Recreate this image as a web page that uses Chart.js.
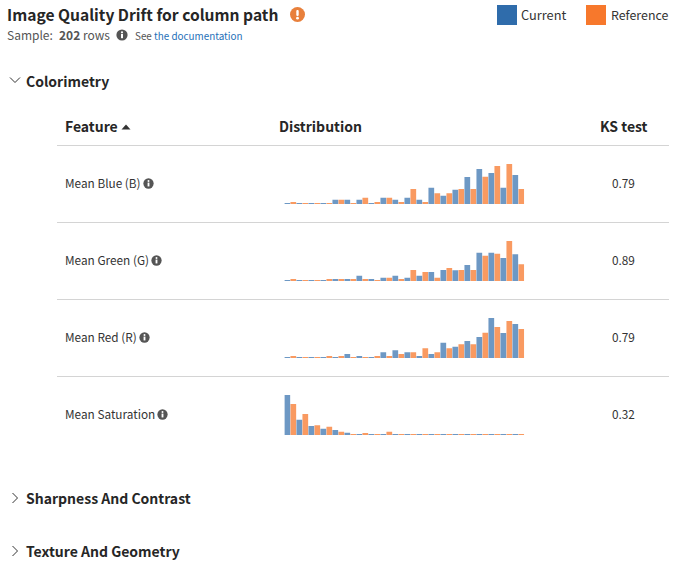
<!DOCTYPE html>
<html lang="en">
<head>
  <meta charset="UTF-8" />
  <title>Image Quality Drift</title>
  <script src="https://cdn.jsdelivr.net/npm/chart.js"></script>
  <style>
    html, body { margin: 0; padding: 0; background: #fff; }
    body {
      position: relative; width: 680px; height: 575px; overflow: hidden;
      font-family: "Noto Sans CJK SC", "Noto Sans", sans-serif; color: #333;
    }
    .t { position: absolute; white-space: nowrap; line-height: 20px; height: 20px; }
    .b { font-weight: 700; color: #262626; }
    .rule { position: absolute; left: 57px; width: 612px; height: 1px; background: #d4d4d4; }
    .sq { position: absolute; top: 5px; width: 20px; height: 20px; }
    svg { position: absolute; }
    canvas { position: absolute; }
    a { color: #1f70b8; text-decoration: none; }
  </style>
</head>
<body>
  <div class="t b" style="left:7px;top:4px;font-size:15.6px;">Image Quality Drift for column path</div>
  <svg style="left:290px;top:7px" width="15" height="15" viewBox="0 0 15 15">
    <circle cx="7.5" cy="7.5" r="7.5" fill="#e8803c"/>
    <rect x="6.3" y="3" width="2.4" height="6" rx="1" fill="#fff"/>
    <circle cx="7.5" cy="11.2" r="1.4" fill="#fff"/>
  </svg>
  <div class="t" style="left:7px;top:25px;font-size:12px;color:#555;">Sample:</div>
  <div class="t" style="left:59px;top:25px;font-size:12px;color:#555;"><b>202</b> rows</div>
  <svg style="left:116px;top:29px" width="12" height="12" viewBox="0 0 12 12">
    <circle cx="6" cy="6" r="5.6" fill="#555"/>
    <rect x="5" y="5" width="2" height="4.2" fill="#fff"/><circle cx="6" cy="3.3" r="1.1" fill="#fff"/>
  </svg>
  <div class="t" style="left:135px;top:26px;font-size:9.9px;color:#555;">See <a>the documentation</a></div>

  <div class="sq" style="left:497px;background:#2f6cab"></div>
  <div class="t" style="left:521px;top:5px;font-size:12.8px;">Current</div>
  <div class="sq" style="left:586px;background:#f7782c"></div>
  <div class="t" style="left:611px;top:5px;font-size:12.4px;">Reference</div>

  <svg style="left:9px;top:76px" width="12" height="8" viewBox="0 0 12 8"><path d="M1 1.5 L6 6.5 L11 1.5" fill="none" stroke="#333" stroke-width="1"/></svg>
  <div class="t b" style="left:26px;top:71px;font-size:14px;">Colorimetry</div>

  <div class="t b" style="left:65px;top:116px;font-size:14px;">Feature</div>
  <svg style="left:121px;top:124px" width="10" height="6" viewBox="0 0 10 6"><path d="M0.5 5.5 L5 0.5 L9.5 5.5 Z" fill="#333"/></svg>
  <div class="t b" style="left:279px;top:116px;font-size:14px;">Distribution</div>
  <div class="t b" style="left:600px;top:116px;font-size:14px;">KS test</div>
  <div class="rule" style="top:145px"></div>

  <div id="rows"></div>

  <svg style="left:11px;top:492px" width="8" height="12" viewBox="0 0 8 12"><path d="M1.5 1 L6.5 6 L1.5 11" fill="none" stroke="#333" stroke-width="1"/></svg>
  <div class="t b" style="left:26px;top:488px;font-size:14px;">Sharpness And Contrast</div>
  <svg style="left:11px;top:545px" width="8" height="12" viewBox="0 0 8 12"><path d="M1.5 1 L6.5 6 L1.5 11" fill="none" stroke="#333" stroke-width="1"/></svg>
  <div class="t b" style="left:26px;top:541px;font-size:14px;">Texture And Geometry</div>

  <script>
    const bins = ['1','2','3','4','5','6','7','8','9','10','11','12','13','14','15','16','17','18','19','20'];
    const features = ['Mean Blue (B)', 'Mean Green (G)', 'Mean Red (R)', 'Mean Saturation'];
    const ksScores = ['0.79', '0.89', '0.79', '0.32'];

    const blueCurrent = [1,1,1,1,4.3,4.3,4.3,1,6.3,4.3,6.3,4.3,16.3,8.3,14.3,27,35,31,16.3,29];
    const blueReference = [2,1,1,1,4.3,1,6.3,2,6.3,2,15,2,10.7,10.7,15,15,27.3,38,40,15];
    const greenCurrent = [1,1,1,1,2,2,5.3,2,3.3,5.3,3.3,5.3,9,11,10.7,16,28.3,28.3,23,26.7];
    const greenReference = [2,1,1,2,2,2,2,1,3.3,2,11,9,3.3,13,11,11,25.3,27.3,40,16.7];
    const redCurrent = [1,1,1,1,1,4,2,1,5.7,7.7,5.7,2,4,15.3,11.3,17,21,40,25,34];
    const redReference = [2,1,1,2,2,1,1,2,2,4,5.7,9.7,5.7,9.7,13.7,13.7,25.3,31,37,29];
    const satCurrent = [40,15.3,9,6.3,5,2.3,1,1,1,1,1,1,1,1,1,1,1,1,1,1];
    const satReference = [31,21,9.7,8.3,3.3,1,2,1,3.3,1,1,1,1,1,1,1,1,1,1,1];

    const currentSeries = [blueCurrent, greenCurrent, redCurrent, satCurrent];
    const referenceSeries = [blueReference, greenReference, redReference, satReference];
    const labelWidths = [78, 86, 74, 92];

    const rows = document.getElementById('rows');
    features.forEach((name, i) => {
      const top = 145 + i * 77;
      rows.insertAdjacentHTML('beforeend', `
        <div class="t" style="left:65px;top:${top + 28}px;font-size:11.8px;">${name}</div>
        <svg style="left:${65 + labelWidths[i]}px;top:${top + 33}px" width="11" height="11" viewBox="0 0 12 12">
          <circle cx="6" cy="6" r="5.6" fill="#555"/>
          <rect x="5" y="5" width="2" height="4.2" fill="#fff"/><circle cx="6" cy="3.3" r="1.1" fill="#fff"/>
        </svg>
        <div class="t" style="left:612px;top:${top + 28}px;font-size:11.8px;">${ksScores[i]}</div>
        ${i < 3 ? `<div class="rule" style="top:${top + 77}px"></div>` : ''}
        <canvas id="dist${i}" width="250" height="50" style="left:280px;top:${top + 10}px;width:250px;height:50px"></canvas>`);
    });

    features.forEach((name, i) => {
      new Chart(document.getElementById('dist' + i), {
        type: 'bar',
        data: {
          labels: bins,
          datasets: [
            { label: 'Current', data: currentSeries[i], backgroundColor: 'rgba(47,108,171,0.7)' },
            { label: 'Reference', data: referenceSeries[i], backgroundColor: 'rgba(247,120,44,0.75)' }
          ]
        },
        options: {
          responsive: false,
          animation: false,
          layout: { padding: { left: 4.3, right: 5.7, top: 9, bottom: 1 } },
          datasets: { bar: { categoryPercentage: 1, barPercentage: 0.95 } },
          plugins: { legend: { display: false }, tooltip: { enabled: false } },
          scales: {
            x: { display: false },
            y: { display: false, min: 0, max: 40 }
          }
        }
      });
    });
  </script>
</body>
</html>
